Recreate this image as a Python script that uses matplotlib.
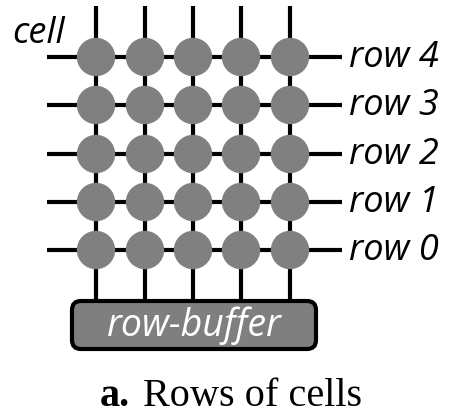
import matplotlib.pyplot as plt
from matplotlib.patches import Circle, FancyBboxPatch

# grid of cells: column x positions and row y positions (pixels)
col_x = [96, 145, 193, 241, 290]
row_y = [250, 202, 154, 105, 57]   # row 0 .. row 4
row_labels = ['row 0', 'row 1', 'row 2', 'row 3', 'row 4']

fig = plt.figure(figsize=(4.72, 4.2), dpi=100)
ax = fig.add_axes([0, 0, 1, 1])
ax.set_xlim(0, 472)
ax.set_ylim(420, 0)
ax.axis('off')

lw = 3.0
# vertical bitlines
for x in col_x:
    ax.plot([x, x], [6, 302], color='black', lw=lw, solid_capstyle='butt', zorder=1)
# horizontal wordlines
for y, lab in zip(row_y, row_labels):
    ax.plot([47, 342], [y, y], color='black', lw=lw, solid_capstyle='butt', zorder=1)
    ax.text(349, y + 1, lab, fontsize=26, fontstyle='italic', family='Open Sans',
            va='center', ha='left')

for x in col_x:
    for y in row_y:
        ax.add_patch(Circle((x, y), 18.5, color='#808080', zorder=2))

ax.text(12, 34, 'cell', fontsize=26, fontstyle='italic', family='Open Sans',
        va='center', ha='left')

buf = FancyBboxPatch((72, 301), 244, 48, boxstyle='round,pad=0,rounding_size=9',
                     facecolor='#7f7f7f', edgecolor='black', lw=3, zorder=3)
ax.add_patch(buf)
ax.text(194, 326, 'row-buffer', fontsize=27, fontstyle='italic', family='Open Sans',
        color='white', va='center', ha='center', zorder=4)

ax.text(100, 397, 'a.', fontsize=29, fontweight='bold', family='Liberation Serif',
        va='center', ha='left')
ax.text(143, 397, 'Rows of cells', fontsize=29, family='Liberation Serif',
        va='center', ha='left')

fig.savefig('out.png', dpi=100)
